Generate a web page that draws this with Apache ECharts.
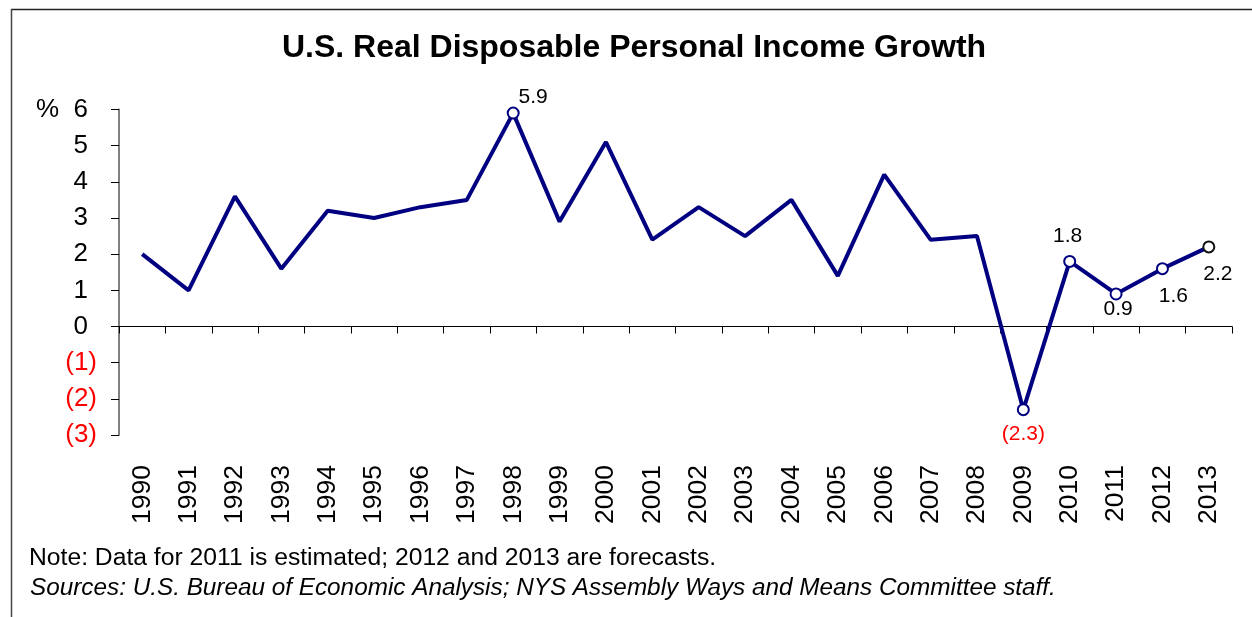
<!DOCTYPE html>
<html>
<head>
<meta charset="utf-8">
<script src="https://cdn.jsdelivr.net/npm/echarts@6/dist/echarts.min.js"></script>
<style>
html,body{margin:0;padding:0;background:#fff;}
#c{width:1252px;height:617px;}
</style>
</head>
<body>
<div id="c"></div>
<script>
const years = ['1990','1991','1992','1993','1994','1995','1996','1997','1998','1999','2000','2001','2002','2003','2004','2005','2006','2007','2008','2009','2010','2011','2012','2013'];
const growth = [2.0, 1.0, 3.6, 1.6, 3.2, 3.0, 3.3, 3.5, 5.9, 2.9, 5.1, 2.4, 3.3, 2.5, 3.5, 1.4, 4.2, 2.4, 2.5, -2.3, 1.8, 0.9, 1.6, 2.2];
const labeledYears = ['1998','2009','2010','2011','2012','2013'];
const yTicks = [-3, -2, -1, 0, 1, 2, 3, 4, 5, 6];

const FONT = '"Liberation Sans", Arial, sans-serif';
const NAVY = '#000080';

const labelPlace = {
  '1998': {position: 'top', offset: [20, 6]},
  '2009': {position: 'bottom', offset: [0, 3]},
  '2010': {position: 'top', offset: [-2, -3]},
  '2011': {position: 'bottom', offset: [2, -7]},
  '2012': {position: 'bottom', offset: [11, 6]},
  '2013': {position: 'bottom', offset: [9, 5]}
};

function fmt(v) {
  return v < 0 ? '(' + Math.abs(v).toFixed(1) + ')' : v.toFixed(1);
}

const seriesData = years.map((y, i) => {
  const v = growth[i];
  if (labeledYears.indexOf(y) < 0) {
    return {value: v, symbol: 'none'};
  }
  const p = labelPlace[y];
  return {
    value: v,
    symbol: 'circle',
    symbolSize: 11,
    itemStyle: {color: '#fff', borderColor: y === '2013' ? '#111' : NAVY, borderWidth: 2},
    label: {
      show: true,
      position: p.position,
      offset: p.offset,
      formatter: fmt(v),
      color: v < 0 ? '#ff0000' : '#000',
      fontSize: 21,
      fontFamily: FONT
    }
  };
});

const chart = echarts.init(document.getElementById('c'), null, {renderer: 'canvas'});
chart.setOption({
  animation: false,
  backgroundColor: '#fff',
  grid: {left: 119, right: 20, top: 109.5, bottom: 182, containLabel: false},
  xAxis: [
    {
      type: 'category',
      data: years,
      position: 'top',
      boundaryGap: true,
      axisLine: {show: true, onZero: true, lineStyle: {color: '#000', width: 1}},
      axisTick: {show: true, inside: true, length: 7, lineStyle: {color: '#000', width: 1}},
      axisLabel: {show: false},
      splitLine: {show: false}
    },
    {
      type: 'category',
      data: years,
      position: 'bottom',
      boundaryGap: true,
      axisLine: {show: false},
      axisTick: {show: false},
      axisLabel: {show: true, rotate: 90, margin: 30, fontSize: 26.5, color: '#000', fontFamily: FONT},
      splitLine: {show: false}
    }
  ],
  yAxis: {
    type: 'value',
    min: yTicks[0],
    max: yTicks[yTicks.length - 1],
    interval: 1,
    axisLine: {show: true, lineStyle: {color: '#808080', width: 2}},
    axisTick: {show: true, length: 8, lineStyle: {color: '#000', width: 1}},
    splitLine: {show: false},
    axisLabel: {
      margin: 22,
      fontSize: 26,
      fontFamily: FONT,
      formatter: function (v) {
        if (v < 0) return '{n|(' + Math.abs(v) + ')}';
        return '{p|' + v + '}';
      },
      rich: {
        n: {color: '#ff0000', fontSize: 26, fontFamily: FONT},
        p: {color: '#000', fontSize: 26, fontFamily: FONT, padding: [0, 9, 0, 0]}
      }
    }
  },
  series: [{
    type: 'line',
    xAxisIndex: 0,
    data: seriesData,
    lineStyle: {color: NAVY, width: 4},
    itemStyle: {color: NAVY},
    showSymbol: true,
    z: 3
  }],
  graphic: [
    {type: 'line', shape: {x1: 11, y1: 9.5, x2: 1252, y2: 9.5}, style: {stroke: '#222', lineWidth: 1.5}, silent: true},
    {type: 'line', shape: {x1: 11.5, y1: 9, x2: 11.5, y2: 617}, style: {stroke: '#444', lineWidth: 1.5}, silent: true},
    {type: 'text', x: 634, y: 48, style: {text: 'U.S. Real Disposable Personal Income Growth', font: 'bold 32px ' + FONT, fill: '#000', align: 'center', verticalAlign: 'middle'}, silent: true},
    {type: 'text', x: 36, y: 110, style: {text: '%', font: '26px ' + FONT, fill: '#000', align: 'left', verticalAlign: 'middle'}, silent: true},
    {type: 'text', x: 29, y: 558, style: {text: 'Note: Data for 2011 is estimated; 2012 and 2013 are forecasts.', font: '24.7px ' + FONT, fill: '#000', align: 'left', verticalAlign: 'middle'}, silent: true},
    {type: 'text', x: 30, y: 588, style: {text: 'Sources: U.S. Bureau of Economic Analysis; NYS Assembly Ways and Means Committee staff.', font: 'italic 24.3px ' + FONT, fill: '#000', align: 'left', verticalAlign: 'middle'}, silent: true}
  ]
});
</script>
</body>
</html>
